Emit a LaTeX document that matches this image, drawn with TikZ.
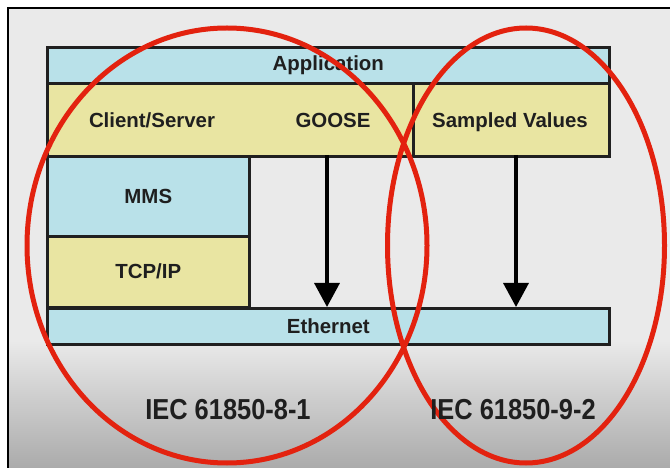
\documentclass[tikz,border=0pt]{standalone}
\usepackage{fontspec}
\setmainfont{Liberation Sans}
\newfontfamily\stdfont[FakeStretch=0.88]{Liberation Sans}
\usetikzlibrary{arrows.meta}
\definecolor{lblue}{HTML}{B9E1E9}
\definecolor{lyellow}{HTML}{E9E5A2}
\definecolor{bgtop}{HTML}{EAEAEA}
\definecolor{bgbot}{HTML}{AAAAAA}
\definecolor{ringred}{HTML}{E3220F}
\definecolor{edge}{HTML}{202020}
\tikzset{
  layer/.style={draw=edge, line width=2.6bp, anchor=north west, inner sep=0pt},
  lbl/.style={font=\bfseries\fontsize{20.5}{24}\selectfont, text=black!88, inner sep=0pt},
  std/.style={font=\stdfont\bfseries\fontsize{29}{32}\selectfont, text=black!88, inner sep=0pt},
  arr/.style={line width=3.4bp, -{Triangle[length=24bp,width=25bp]}},
  ring/.style={draw=ringred, line width=5bp}
}
\begin{document}
\begin{tikzpicture}[x=1bp,y=-1bp]
\useasboundingbox (0,0) rectangle (670,468);
\fill[white] (0,0) rectangle (670,468);
% background panel
\fill[bgtop] (8,8) rectangle (672,340);
\shade[top color=bgtop, bottom color=bgbot] (8,340) rectangle (672,470);
\draw[black, line width=2bp] (8,470) -- (8,8) -- (672,8);
% layers
\node[layer, fill=lblue, minimum width=562bp, minimum height=36bp] (app) at (46,46) {};
\node[layer, fill=lyellow, minimum width=366bp, minimum height=73bp] (cs) at (46,82) {};
\node[layer, fill=lyellow, minimum width=196bp, minimum height=73bp] (sv) at (412,82) {};
\node[layer, fill=lblue, minimum width=202bp, minimum height=80bp] (mms) at (46,155) {};
\node[layer, fill=lyellow, minimum width=202bp, minimum height=71bp] (tcp) at (46,235) {};
\node[layer, fill=lblue, minimum width=562bp, minimum height=36bp] (eth) at (46,307) {};
% labels
\node[lbl] (tapp) at (app.center) {Application};
\node[lbl] (tcs) at (152,120) {Client/Server};
\node[lbl, anchor=base] (tgoose) at (tcs.base -| 333,0) {GOOSE};
\node[lbl, anchor=base] (tsv) at (tcs.base -| 510,0) {Sampled Values};
\node[lbl] (tmms) at (mms.center) {MMS};
\node[lbl] (ttcp) at (tcp.center) {TCP/IP};
\node[lbl] (teth) at (eth.center) {Ethernet};
% arrows
\coordinate (g1) at (327,155);
\coordinate (s1) at (516,155);
\draw[arr] (g1) -- (g1 |- eth.north);
\draw[arr] (s1) -- (s1 |- eth.north);
% red rings
\draw[ring] (227,245.5) ellipse [x radius=200, y radius=217.5];
\draw[ring] (526,245.5) ellipse [x radius=138.5, y radius=217.5];
% standards
\node[std] (iec81) at (228,410) {IEC 61850-8-1};
\node[std] (iec92) at (513,410) {IEC 61850-9-2};
\end{tikzpicture}
\end{document}
